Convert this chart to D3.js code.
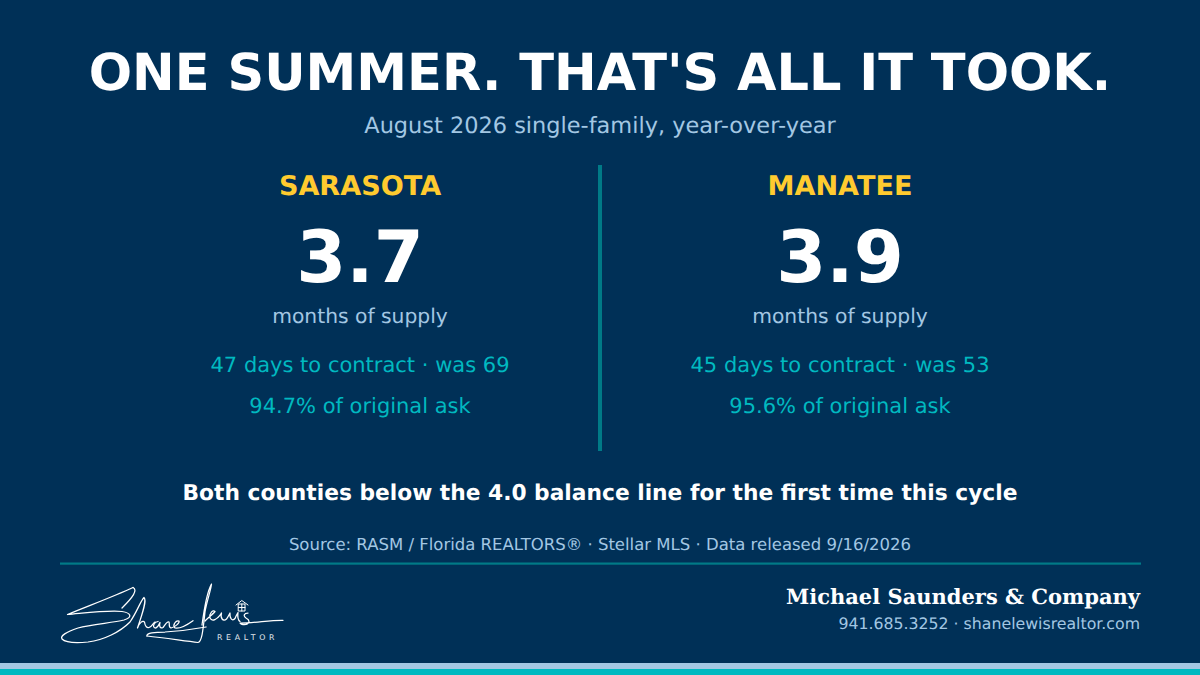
<!DOCTYPE html>
<html><head><meta charset="utf-8">
<script src="https://cdn.jsdelivr.net/npm/d3@7"></script>
<style>html,body{margin:0;padding:0;background:#003057}svg{display:block}text{text-rendering:geometricPrecision}</style>
</head><body><svg id="c" width="1200" height="675"></svg>
<script>
const title = "ONE SUMMER. THAT'S ALL IT TOOK.";
const subtitle = "August 2026 single-family, year-over-year";
const counties = ["SARASOTA", "MANATEE"];
const monthsOfSupply = ["3.7", "3.9"];
const supplyLabel = "months of supply";
const daysToContract = [47, 45];
const daysPrior = [69, 53];
const pctOfAsk = ["94.7", "95.6"];
const headline = "Both counties below the 4.0 balance line for the first time this cycle";
const source = "Source: RASM / Florida REALTORS® · Stellar MLS · Data released 9/16/2026";
const company = "Michael Saunders & Company";
const contact = "941.685.3252 · shanelewisrealtor.com";
const sans = "'DejaVu Sans',sans-serif", serif = "'DejaVu Serif',serif";
const navy = "#003057", gold = "#ffcb2f", sky = "#a3c7e3", teal = "#00b9c0", white = "#ffffff", rule = "#007a87";
const svg = d3.select("#c");
svg.append("rect").attr("width",1200).attr("height",675).attr("fill",navy);
function t(s,x,y,size,fill,weight,anchor,family,ls){
  return svg.append("text").text(s).attr("x",x).attr("y",y).attr("font-size",size).attr("fill",fill)
    .attr("font-weight",weight||"normal").attr("text-anchor",anchor||"middle")
    .attr("font-family",family||sans).attr("letter-spacing",ls||0);
}
t(title,600,90,51,white,"bold");
t(subtitle,600,133,22.45,sky);
const x = d3.scalePoint().domain(counties).range([360,840]);
counties.forEach((c,i)=>{
  const cx = x(c);
  t(c,cx,194.6,27.1,gold,"bold");
  t(monthsOfSupply[i],cx,282,72,white,"bold");
  t(supplyLabel,cx,323,20.3,sky);
  t(`${daysToContract[i]} days to contract · was ${daysPrior[i]}`,cx,372.4,21,teal);
  t(`${pctOfAsk[i]}% of original ask`,cx,413.4,21,teal);
});
svg.append("rect").attr("x",598).attr("y",165).attr("width",4).attr("height",286).attr("fill",rule);
t(headline,600,500,21.75,white,"bold");
t(source,600,549.6,16.5,sky);
svg.append("rect").attr("x",60).attr("y",562.5).attr("width",1081).attr("height",2.2).attr("fill",rule);
t(company,1140,604,21,white,"bold","end",serif);
t(contact,1140,629,15.75,sky,"normal","end");
svg.append("rect").attr("x",0).attr("y",663).attr("width",1200).attr("height",6).attr("fill",sky);
svg.append("rect").attr("x",0).attr("y",669).attr("width",1200).attr("height",6).attr("fill",teal);
// Signature logo (decorative artwork, not data)
const sig = svg.append("g").attr("fill","none").attr("stroke",white).attr("stroke-width",1.25).attr("stroke-linecap","round").attr("stroke-linejoin","round");
[
 "M133 587.5 C115 596 88 606 67.5 614.5 C85 613 108 610 122 611.5 C131 613 133 617 124 620 C112 623 92 624 78 628 C66 632 60 636 62 639 C66 643 78 643 88 642 C104 640 120 632 130 622 C137 612 141 600 144 597.5 C147 600 143 612 137.5 628 C139 623 143 620 144.5 622 C145 626 147 629 150 627 C152 626 153 623 155 622",
 "M133 587.5 C138 590 133 597 122 608",
 "M158 621.5 C154 622 152 627 155 628 C158 628 159 624 160 622.5 C159 626 160 629 163 627.5 C165 625 167 621 169 622 C170 624 168 627 171 628 C175 627 180 623 179 621 C176 620 172 625 175 628 C180 629 187 625 193 620.7",
 "M147 636 C146 633 155 632 165 632 C180 631 195 629 206 627",
 "M147 636 C165 638 185 641 198 642.5 C202 642 203 630 205 612 C207 600 211 590 211.5 584 C208 590 204 610 202 625",
 "M205 621 C208 618 213 614 215 611.5 C213 609.5 209 613 210 618 C212 622 217 620 221.5 613 C220 618 223 622 226.5 619 C228 617 229 615 230 613 C229.5 618 232 622 235 618.5 C236 616 237 614 238 612.5 C237.5 616 238 620 240 621.5",
 "M248 613 C244 613 243 616 246 618 C250 620 250 623 246 624.5 C243 625 240 624 240 623 C255 623 270 620 283 620.3"
].forEach(d=>sig.append("path").attr("d",d));
const house = sig.append("g").attr("stroke-width",1);
house.append("path").attr("d","M236 605 L241.8 600.5 L248 605");
house.append("rect").attr("x",238.6).attr("y",604).attr("width",6.4).attr("height",7);
house.append("path").attr("d","M241.8 604 V611 M238.6 607.5 H245");
svg.append("text").text("REALTOR").attr("x",217).attr("y",640).attr("font-size",7.8).attr("fill","#e2e7ec").attr("letter-spacing",3.7).attr("font-family",sans);
</script></body></html>
